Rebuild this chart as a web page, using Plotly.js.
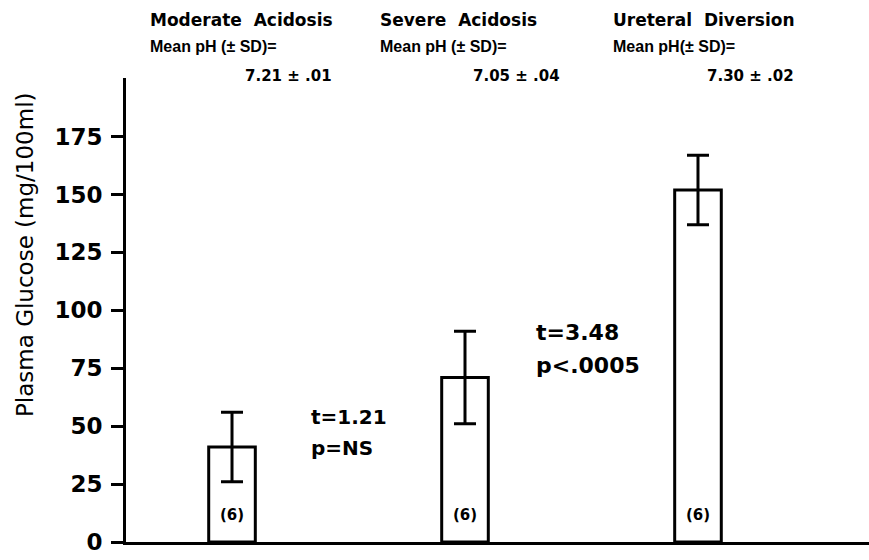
<!DOCTYPE html>
<html>
<head>
<meta charset="utf-8">
<script src="https://cdn.plot.ly/plotly-3.0.1.min.js"></script>
<style>html,body{margin:0;padding:0;background:#fff;}</style>
</head>
<body>
<div id="chart" style="width:869px;height:560px;"></div>
<script>
// ---- data ----
const groupNames = ['Moderate\u00A0 Acidosis', 'Severe\u00A0 Acidosis', 'Ureteral\u00A0 Diversion'];
const xPos = [1, 2, 3];
const glucoseMean = [41, 71, 152];
const glucoseSD = [15, 20, 15];
const nLabels = ['(6)', '(6)', '(6)'];
const phLines = ['Mean pH (\u00B1 SD)=', 'Mean pH (\u00B1 SD)=', 'Mean pH(\u00B1 SD)='];
const phValues = ['7.21 \u00B1 .01', '7.05 \u00B1 .04', '7.30 \u00B1 .02'];
const yTicks = [0, 25, 50, 75, 100, 125, 150, 175];
const tStats = [['t=1.21', 'p=NS'], ['t=3.48', 'p&lt;.0005']];

// ---- layout helpers (pixel -> paper) ----
const L = 126, R = 0, T = 78, B = 18, W = 869, H = 560;
const pw = W - L - R, ph = H - T - B;
const px = x => (x - L) / pw;
const py = y => (H - B - y) / ph;

const bold = {family: 'DejaVu Sans', weight: 'bold', color: '#000'};
const f = (size, fam) => Object.assign({}, bold, {size: size}, fam ? {family: fam} : {});

const annotations = [];
// header text blocks
const headLeft = [148, 378, 611];
const valLeft = [243, 471, 705];
for (let i = 0; i < 3; i++) {
  annotations.push({xref: 'paper', yref: 'paper', x: px(headLeft[i]), y: py(20), xanchor: 'left', yanchor: 'middle',
    text: groupNames[i], showarrow: false, font: f(17)});
  annotations.push({xref: 'paper', yref: 'paper', x: px(headLeft[i]), y: py(46), xanchor: 'left', yanchor: 'middle',
    text: phLines[i], showarrow: false, font: f(16, 'Liberation Sans')});
  annotations.push({xref: 'paper', yref: 'paper', x: px(valLeft[i]), y: py(76), xanchor: 'left', yanchor: 'middle',
    text: phValues[i], showarrow: false, font: f(15)});
  // n labels inside bars
  annotations.push({xref: 'x', yref: 'y', x: xPos[i], y: 0, xanchor: 'center', yanchor: 'middle', yshift: 27,
    text: nLabels[i], showarrow: false, font: f(15)});
}
// t-test annotations
const tLeft = [309, 534];
const tSize = [20, 22];
const tY = [[417, 448], [332, 365]];
for (let k = 0; k < 2; k++) {
  for (let j = 0; j < 2; j++) {
    annotations.push({xref: 'paper', yref: 'paper', x: px(tLeft[k]), y: py(tY[k][j]), xanchor: 'left', yanchor: 'middle',
      text: tStats[k][j], showarrow: false, font: f(tSize[k])});
  }
}
// y-axis title (not centred on the axis in the original)
annotations.push({xref: 'paper', yref: 'paper', x: px(25), y: py(255), xanchor: 'center', yanchor: 'middle',
  textangle: -90, text: 'Plasma Glucose (mg/100ml)', showarrow: false,
  font: {family: 'DejaVu Sans', size: 23, color: '#000'}});

const trace = {
  type: 'bar',
  x: xPos,
  y: glucoseMean,
  width: 0.2,
  marker: {color: '#fff', line: {color: '#000', width: 3}},
  error_y: {type: 'data', array: glucoseSD, visible: true, color: '#000', thickness: 3, width: 11},
  hoverinfo: 'none'
};

const layout = {
  width: W, height: H,
  margin: {l: L, r: R, t: T, b: B, pad: 0},
  paper_bgcolor: '#fff', plot_bgcolor: '#fff',
  showlegend: false,
  xaxis: {range: [0.545, 3.734], showline: true, linewidth: 3, linecolor: '#000', showticklabels: false,
    ticks: '', showgrid: false, zeroline: false, fixedrange: true},
  yaxis: {range: [0, 200.3], showline: true, linewidth: 3, linecolor: '#000', ticks: 'outside', ticklen: 12,
    tickwidth: 3, tickcolor: '#000', tickvals: yTicks, ticktext: yTicks.map(String),
    tickfont: {family: 'DejaVu Sans', weight: 'bold', size: 23, color: '#000'}, ticklabelstandoff: 4,
    showgrid: false, zeroline: false, fixedrange: true},
  annotations: annotations
};

Plotly.newPlot('chart', [trace], layout, {displayModeBar: false, staticPlot: true});
</script>
</body>
</html>
